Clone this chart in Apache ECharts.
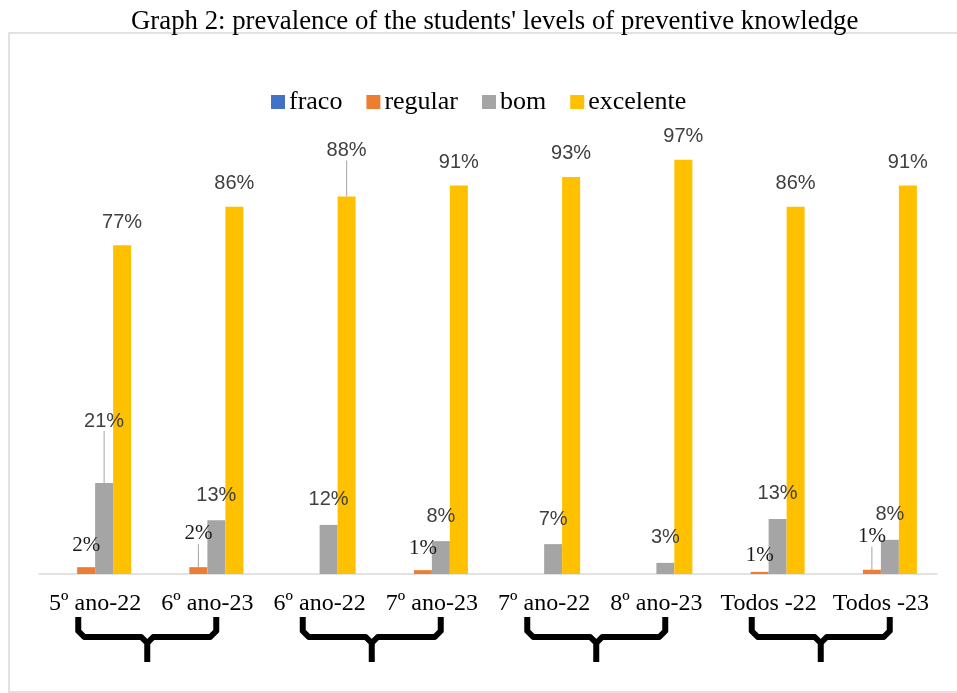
<!DOCTYPE html>
<html><head><meta charset="utf-8">
<script src="https://cdn.jsdelivr.net/npm/echarts@6/dist/echarts.min.js"></script>
<style>html,body{margin:0;padding:0;background:#fff}#c{width:957px;height:693px}</style>
</head><body><div id="c"></div>
<script>
const categories = ['5º ano-22','6º ano-23','6º ano-22','7º ano-23','7º ano-22','8º ano-23','Todos -22','Todos -23'];
const fraco = [0,0,0,0,0,0,0,0];
const regular = [1.6,1.6,0,0.9,0,0,0.5,1.0];
const bom = [21.3,12.6,11.5,7.7,7.0,2.6,12.9,8.0];
const excelente = [77,86,88.4,91,93,97,86,91];
const seriesNames = ['fraco','regular','bom','excelente'];
const colors = ['#4472C4','#ED7D31','#A5A5A5','#FFC000'];
// label displacements (series name -> dataIndex -> dy)
const labelShift = { regular: {1:-12, 6:5, 7:-12}, bom: {0:-37}, excelente: {2:-23} };
const leaderLines = { regular:[1,7], bom:[0], excelente:[2] };
const pairs = [[0,1],[2,3],[4,5],[6,7]];

const serif = '"Liberation Serif","Times New Roman",serif';
const sans = '"Liberation Sans",Arial,sans-serif';

function mkData(name, arr){
  return arr.map((v,i)=>{
    const o = {value:v};
    if ((leaderLines[name]||[]).includes(i)) o.labelLine = {show:true};
    return o;
  });
}
function pctFmt(p){ return p.value > 0 ? Math.round(p.value) + '%' : ''; }

const labelCfg = {
  fraco: {show:false},
  regular: {show:true, position:'top', distance:11, fontFamily:serif, fontSize:21, color:'#1a1a1a', formatter:pctFmt},
  bom: {show:true, position:'top', distance:15, fontFamily:sans, fontSize:20, color:'#404040', formatter:pctFmt},
  excelente: {show:true, position:'top', distance:13, fontFamily:sans, fontSize:20, color:'#404040', formatter:pctFmt}
};
const dataMap = {fraco, regular, bom, excelente};

const chart = echarts.init(document.getElementById('c'));
const option = {
  animation:false,
  title:{text:"Graph 2: prevalence of the students' levels of preventive knowledge", left:126, top:3,
    textStyle:{fontFamily:serif, fontSize:26.8, fontWeight:'normal', color:'#000'}},
  legend:{left:266, top:84, itemWidth:14, itemHeight:14, itemGap:24, icon:'rect',
    textStyle:{fontFamily:serif, fontSize:26, color:'#000', padding:[0,0,0,-1]}},
  grid:{left:39, right:20, top:147, bottom:119},
  xAxis:{type:'category', data:categories,
    axisLine:{lineStyle:{color:'#d9d9d9', width:1.5}}, axisTick:{show:false},
    axisLabel:{fontFamily:serif, fontSize:24, color:'#000', margin:18, interval:0}},
  yAxis:{type:'value', min:0, max:100, show:false, splitLine:{show:false}},
  series: seriesNames.map((n,k)=>({
    name:n, type:'bar', data:mkData(n, dataMap[n]), barWidth:18, barGap:'0%',
    itemStyle:{color:colors[k]},
    label:labelCfg[n],
    labelLine:{show:false, lineStyle:{color:'#a6a6a6', width:1}},
    labelLayout:function(p){ const s=labelShift[n]; return (s && s[p.dataIndex]!==undefined)?{dy:s[p.dataIndex]}:{}; }
  }))
};
chart.setOption(option);

// decorative frame + braces computed from axis positions
const els = [{type:'rect', shape:{x:9, y:33, width:960, height:659}, style:{fill:'none', stroke:'#d9d9d9', lineWidth:1.5}, silent:true}];
pairs.forEach(([a,b])=>{
  const xa = chart.convertToPixel({xAxisIndex:0}, a);
  const xb = chart.convertToPixel({xAxisIndex:0}, b);
  const T = (xa+xb)/2 - 4, L = T-69, R = T+69;
  const y0=617, yh=637, yt=662;
  const st = {stroke:'#000', lineWidth:6, fill:'none', lineJoin:'round', lineCap:'butt'};
  els.push({type:'polyline', shape:{points:[[L,y0],[L,yh-6],[L+6,yh],[T-6,yh],[T,yh+6],[T,yt]]}, style:st, silent:true});
  els.push({type:'polyline', shape:{points:[[R,y0],[R,yh-6],[R-6,yh],[T+6,yh],[T,yh+6]]}, style:st, silent:true});
});
chart.setOption({graphic:{elements:els}});
</script></body></html>
